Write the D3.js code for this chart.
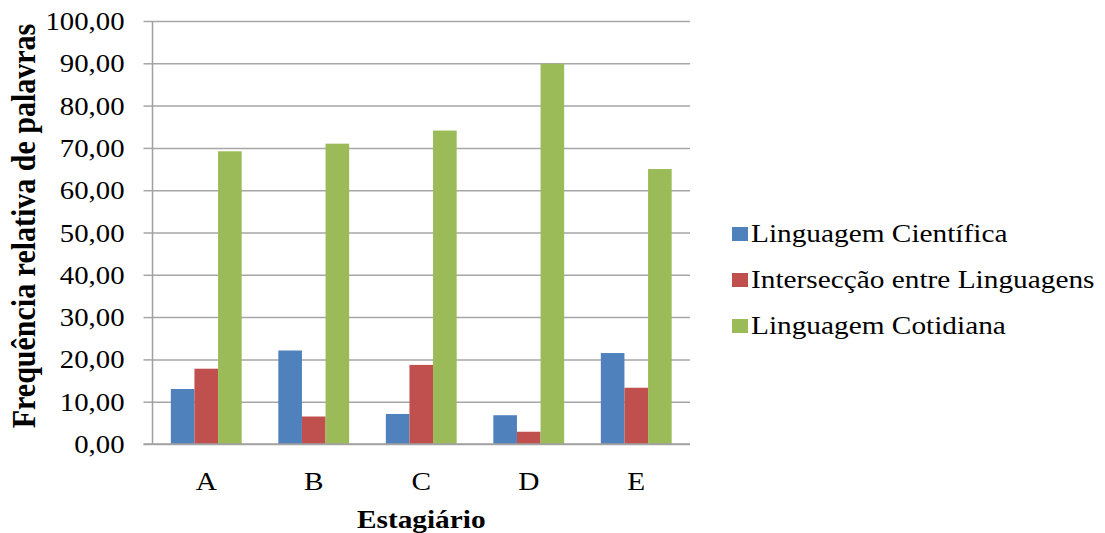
<!DOCTYPE html>
<html>
<head>
<meta charset="utf-8">
<script src="https://cdn.jsdelivr.net/npm/d3@7"></script>
<style>
  html, body { margin: 0; padding: 0; background: #fff; }
  svg { display: block; }
</style>
</head>
<body>
<svg id="chart" width="1105" height="533"></svg>
<script>
const categories = ["A", "B", "C", "D", "E"];
const seriesNames = ["Linguagem Científica", "Intersecção entre Linguagens", "Linguagem Cotidiana"];
const cientifica = [13.0, 22.1, 7.1, 6.8, 21.5];
const interseccao = [17.8, 6.5, 18.7, 2.9, 13.3];
const cotidiana = [69.2, 71.0, 74.1, 89.9, 65.0];
const yTicks = [0, 10, 20, 30, 40, 50, 60, 70, 80, 90, 100];
const colors = ["#4F81BD", "#C0504D", "#9BBB59"];

const seriesValues = [cientifica, interseccao, cotidiana];
const SX = 1.15; // horizontal stretch of text in reference
const FONT = '"Liberation Serif", "Times New Roman", serif';

const svg = d3.select("#chart");
const pLeft = 152.5, pRight = 690, pTop = 21, pBottom = 444;

const x = d3.scaleBand().domain(categories).range([pLeft, pRight]).paddingInner(0.341).paddingOuter(0.1705);
const x1 = d3.scaleBand().domain(d3.range(3)).range([0, x.bandwidth()]);
const y = d3.scaleLinear().domain([0, 100]).range([pBottom, pTop]);

const fmt = v => v.toFixed(2).replace(".", ",");

// gridlines
const gy = svg.append("g")
  .attr("transform", `translate(${pLeft},0)`)
  .call(d3.axisLeft(y).tickValues(yTicks).tickSize(-(pRight - pLeft)).tickFormat(""));
gy.select(".domain").remove();
gy.selectAll(".tick line").attr("stroke", "#a6a6a6").attr("stroke-width", 1.5);
// tick marks
svg.append("g")
  .attr("transform", `translate(${pLeft},0)`)
  .call(d3.axisLeft(y).tickValues(yTicks).tickSize(9).tickFormat(""))
  .call(g => g.select(".domain").remove())
  .selectAll(".tick line").attr("stroke", "#a6a6a6").attr("stroke-width", 1.5);

// bars
const groups = svg.append("g").selectAll("g")
  .data(categories)
  .join("g")
  .attr("transform", d => `translate(${x(d)},0)`);
groups.selectAll("rect")
  .data((d, i) => seriesValues.map((s, k) => ({ k, v: s[i] })))
  .join("rect")
  .attr("x", d => x1(d.k))
  .attr("width", x1.bandwidth())
  .attr("y", d => y(d.v))
  .attr("height", d => y(0) - y(d.v))
  .attr("fill", d => colors[d.k]);

// axis lines
svg.append("line").attr("x1", pLeft).attr("x2", pLeft).attr("y1", pTop).attr("y2", pBottom)
  .attr("stroke", "#a0a0a0").attr("stroke-width", 1.5);
svg.append("line").attr("x1", pLeft - 9).attr("x2", pRight).attr("y1", pBottom).attr("y2", pBottom)
  .attr("stroke", "#a0a0a0").attr("stroke-width", 1.5);

// y tick labels
svg.append("g").selectAll("text")
  .data(yTicks)
  .join("text")
  .attr("transform", d => `translate(124.5,${y(d) + 9}) scale(${SX},1)`)
  .attr("text-anchor", "end")
  .style("font-family", FONT)
  .style("font-size", "25px")
  .attr("fill", "#000")
  .text(d => fmt(d));

// x labels
svg.append("g").selectAll("text")
  .data(categories)
  .join("text")
  .attr("transform", d => `translate(${x(d) + x.bandwidth() / 2},490) scale(${SX},1)`)
  .attr("text-anchor", "middle")
  .style("font-family", FONT)
  .style("font-size", "25.5px")
  .attr("fill", "#000")
  .text(d => d);

// axis titles
svg.append("text")
  .attr("transform", `translate(${(pLeft + pRight) / 2},528) scale(${SX},1)`)
  .attr("text-anchor", "middle")
  .style("font-family", FONT)
  .style("font-size", "25.5px")
  .style("font-weight", "bold")
  .attr("fill", "#000")
  .text("Estagiário");
svg.append("text")
  .attr("transform", `translate(35,226) scale(${SX},1) rotate(-90)`)
  .attr("text-anchor", "middle")
  .style("font-family", FONT)
  .style("font-size", "30px")
  .style("font-weight", "bold")
  .attr("fill", "#000")
  .text("Frequência relativa de palavras");

// legend
const lg = svg.append("g").selectAll("g")
  .data(seriesNames)
  .join("g")
  .attr("transform", (d, i) => `translate(732,${242 + i * 46})`);
lg.append("rect").attr("x", 0).attr("y", -15).attr("width", 16).attr("height", 14)
  .attr("fill", (d, i) => colors[i]);
lg.append("text")
  .attr("transform", `translate(19,0) scale(${SX},1)`)
  .style("font-family", FONT)
  .style("font-size", "25.5px")
  .attr("fill", "#000")
  .text(d => d);
</script>
</body>
</html>
